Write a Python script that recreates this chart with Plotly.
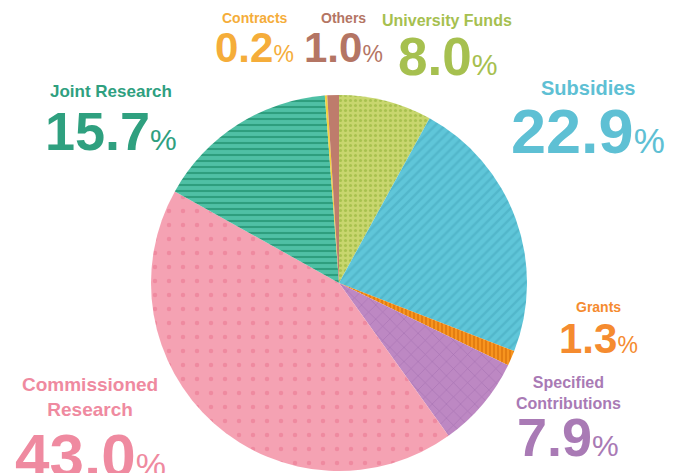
"""Income breakdown pie chart with patterned slices and big percentage callouts"""

import plotly.graph_objects as go

# data, clockwise from 12 o'clock
labels = ["University Funds", "Subsidies", "Grants", "Specified Contributions",
          "Commissioned Research", "Joint Research", "Contracts", "Others"]
shares = [8.0, 22.9, 1.3, 7.9, 43.0, 15.7, 0.2, 1.0]
slice_colors = ["#c8d66e", "#5fc6d9", "#f7941e", "#bd88c3",
                "#f5a2b3", "#4fc0a5", "#f4d03f", "#be7c6c"]
pattern_colors = ["#a9c24e", "#52b7cb", "#e0780f", "#a673b2",
                  "#ef8aa0", "#2e9e7e", "#f4d03f", "#b06f5f"]
pattern_shapes = [".", "/", "|", "x", ".", "-", "", ""]
pattern_sizes = [5, 7, 4, 10, 14, 6, 8, 8]
pattern_solidity = [0.3, 0.35, 0.4, 0.12, 0.08, 0.35, 0.3, 0.3]
text_colors = ["#a6c04f", "#5ec0d4", "#f58b2f", "#a97ab5",
               "#ef8aa0", "#2fa07f", "#f5ad3a", "#b47564"]
# label lines shown above each number (<br> for the two-line ones)
label_text = ["University Funds", "Subsidies", "Grants", "Specified<br>Contributions",
              "Commissioned<br>Research", "Joint Research", "Contracts", "Others"]

W, H = 673, 473
OFF = 8  # page body margin, so pixel positions are shifted by this

# callout placement in pixels: (x, label y, value y, label size, value size)
callouts = [
    (447, 21, 56, 16, 53),
    (588, 88, 131, 20, 63),
    (598, 307, 338, 14, 42),
    (568, 393, 437, 16, 54),
    (90, 397, 455, 19, 62),
    (111, 91, 131, 17, 54),
    (255, 18, 47, 14, 42),
    (343, 18, 47, 14, 42),
]


def px(x):
    return (x - OFF) / W


def py(y):
    return 1 - (y - OFF) / H


fig = go.Figure(go.Pie(
    labels=labels,
    values=shares,
    sort=False,
    direction="clockwise",
    rotation=0,
    textinfo="none",
    hoverinfo="label+percent",
    showlegend=False,
    marker=dict(
        colors=slice_colors,
        line=dict(width=0),
        pattern=dict(shape=pattern_shapes, fgcolor=pattern_colors,
                     bgcolor=slice_colors, fillmode="replace",
                     size=pattern_sizes, solidity=pattern_solidity),
    ),
    # circle: left 151, right 527, top 95, bottom 471 (pixels)
    domain=dict(x=[px(151), px(527)], y=[py(471), py(95)]),
))

font_family = "Liberation Sans, Arial, Roboto, sans-serif"
for i, (cx, ly, vy, lsize, vsize) in enumerate(callouts):
    # small category name
    fig.add_annotation(
        x=px(cx), y=py(ly), xref="paper", yref="paper",
        xanchor="center", yanchor="middle", showarrow=False,
        text="<b>" + label_text[i] + "</b>",
        font=dict(family=font_family, size=lsize, color=text_colors[i]),
    )
    # big number with a smaller % sign
    pct_size = round(vsize * 0.55)
    fig.add_annotation(
        x=px(cx), y=py(vy), xref="paper", yref="paper",
        xanchor="center", yanchor="middle", showarrow=False,
        text="<b>%.1f</b><span style='font-size:%dpx'>%%</span>" % (shares[i], pct_size),
        font=dict(family=font_family, size=vsize, color=text_colors[i]),
    )

fig.update_layout(
    width=W, height=H,
    margin=dict(l=0, r=0, t=0, b=0),
    paper_bgcolor="white",
    plot_bgcolor="white",
)

fig.write_html("out.html")
